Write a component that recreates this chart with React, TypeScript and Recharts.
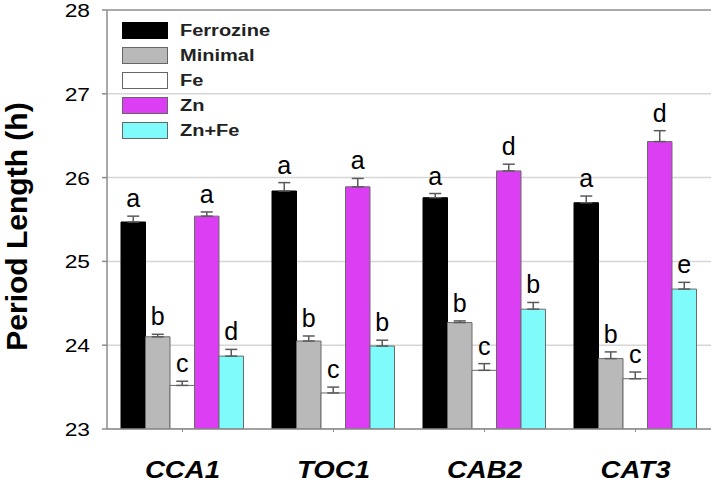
import { Bar, BarChart, CartesianGrid, ErrorBar, Label, LabelList, ReferenceLine, XAxis, YAxis } from "recharts";

const GENES = ["CCA1", "TOC1", "CAB2", "CAT3"];
const SERIES = ["Ferrozine", "Minimal", "Fe", "Zn", "Zn+Fe"];
const COLORS = ["#000000", "#b9b9b9", "#ffffff", "#dc3ff3", "#80fbfb"];

const FERROZINE = [25.47, 25.84, 25.76, 25.7];
const MINIMAL = [24.1, 24.05, 24.27, 23.84];
const FE = [23.52, 23.43, 23.7, 23.6];
const ZN = [25.54, 25.89, 26.08, 26.43];
const ZN_FE = [23.87, 23.99, 24.43, 24.67];

const FERROZINE_ERR = [0.07, 0.1, 0.05, 0.08];
const MINIMAL_ERR = [0.03, 0.06, 0.02, 0.08];
const FE_ERR = [0.05, 0.07, 0.08, 0.08];
const ZN_ERR = [0.05, 0.1, 0.08, 0.13];
const ZN_FE_ERR = [0.08, 0.07, 0.08, 0.08];

const FERROZINE_SIG = ["a", "a", "a", "a"];
const MINIMAL_SIG = ["b", "b", "b", "b"];
const FE_SIG = ["c", "c", "c", "c"];
const ZN_SIG = ["a", "a", "d", "d"];
const ZN_FE_SIG = ["d", "b", "b", "e"];

const Y_TICKS = [23, 24, 25, 26, 27, 28];
const Y_MIN = 23;

const VALUES = [FERROZINE, MINIMAL, FE, ZN, ZN_FE];
const ERRS = [FERROZINE_ERR, MINIMAL_ERR, FE_ERR, ZN_ERR, ZN_FE_ERR];
const SIGS = [FERROZINE_SIG, MINIMAL_SIG, FE_SIG, ZN_SIG, ZN_FE_SIG];

const data = GENES.map((gene, i) => {
  const row: Record<string, any> = { gene };
  VALUES.forEach((vals, s) => {
    row[`s${s}`] = vals[i];
    row[`e${s}`] = [0, ERRS[s][i]];
  });
  return row;
});

const FONT = '"Liberation Sans", Arial, Helvetica, sans-serif';

// letters sit just above the top of each error bar
const makeSigLabel = (s: number) => (props: any) => {
  const vb = props.viewBox ?? props;
  const { x, y, width, height } = vb;
  const index = props.index;
  const v = VALUES[s][index];
  const pxPerUnit = height / (v - Y_MIN);
  const top = y - ERRS[s][index] * pxPerUnit;
  return (
    <text x={x + width / 2} y={top - 9} textAnchor="middle" fontSize={25} fontFamily={FONT} fill="#000">
      {SIGS[s][index]}
    </text>
  );
};

const YTick = ({ x, y, payload }: any) => (
  <text
    transform={`translate(${x},${y + 7}) scale(1.2,1)`}
    textAnchor="end"
    fontSize={19}
    fontFamily={FONT}
    fill="#000"
  >
    {payload.value}
  </text>
);

const XTick = ({ x, y, payload }: any) => (
  <text
    transform={`translate(${x},${y + 44}) scale(1.15,1)`}
    textAnchor="middle"
    fontSize={24}
    fontWeight="bold"
    fontStyle="italic"
    fontFamily={FONT}
    fill="#000"
  >
    {payload.value}
  </text>
);

const YLabel = (props: any) => {
  const vb = props.viewBox ?? { y: 10, height: 419 };
  const cy = vb.y + vb.height / 2 + 7;
  return (
    <text
      x={27}
      y={cy}
      transform={`rotate(-90, 27, ${cy})`}
      textAnchor="middle"
      fontSize={30}
      fontWeight="bold"
      fontFamily={FONT}
      fill="#000"
    >
      Period Length (h)
    </text>
  );
};

export default function App() {
  return (
    <div style={{ position: "absolute", left: 0, top: 0, width: 717, height: 486, background: "#fff" }}>
      <BarChart
        width={717}
        height={486}
        data={data}
        margin={{ top: 10, right: 6, left: 0, bottom: 0 }}
        barSize={24.5}
        barGap={0}
      >
        <CartesianGrid vertical={false} stroke="#d6d6d6" strokeWidth={1.5} />
        <XAxis
          dataKey="gene"
          height={57}
          tick={<XTick />}
          tickSize={3}
          axisLine={{ stroke: "#8c8c8c", strokeWidth: 1.5 }}
          tickLine={{ stroke: "#8c8c8c" }}
        />
        <YAxis
          width={107}
          domain={[23, 28]}
          ticks={Y_TICKS}
          allowDataOverflow
          tick={<YTick />}
          tickSize={5}
          tickMargin={12}
          axisLine={{ stroke: "#8c8c8c", strokeWidth: 1.5 }}
          tickLine={{ stroke: "#8c8c8c", strokeWidth: 1.5 }}
        >
          <Label content={YLabel} />
        </YAxis>
        <YAxis
          yAxisId="r"
          orientation="right"
          width={0}
          domain={[23, 28]}
          tick={false}
          tickLine={false}
          axisLine={{ stroke: "#9a9a9a", strokeWidth: 1.5 }}
        />
        <ReferenceLine y={28} stroke="#9a9a9a" strokeWidth={1.5} />
        {SERIES.map((name, s) => (
          <Bar
            key={name}
            dataKey={`s${s}`}
            name={name}
            fill={COLORS[s]}
            stroke={s === 0 ? "#000" : "#6a6a6a"}
            strokeWidth={1}
            isAnimationActive={false}
          >
            <ErrorBar dataKey={`e${s}`} width={6} stroke="#5a5a5a" strokeWidth={1.5} direction="y" />
            <LabelList dataKey={`s${s}`} content={makeSigLabel(s)} />
          </Bar>
        ))}
      </BarChart>
      <div style={{ position: "absolute", left: 122, top: 18, fontFamily: FONT }}>
        {SERIES.map((name, s) => (
          <div key={name} style={{ display: "flex", alignItems: "center", height: 25 }}>
            <div
              style={{
                width: 44,
                height: 15,
                background: COLORS[s],
                border: `1px solid ${s === 0 ? "#000" : "#666"}`,
              }}
            />
            <span
              style={{
                marginLeft: 12,
                fontSize: 16,
                fontWeight: "bold",
                color: "#222",
                display: "inline-block",
                transform: "scaleX(1.25)",
                transformOrigin: "left center",
              }}
            >
              {name}
            </span>
          </div>
        ))}
      </div>
    </div>
  );
}
